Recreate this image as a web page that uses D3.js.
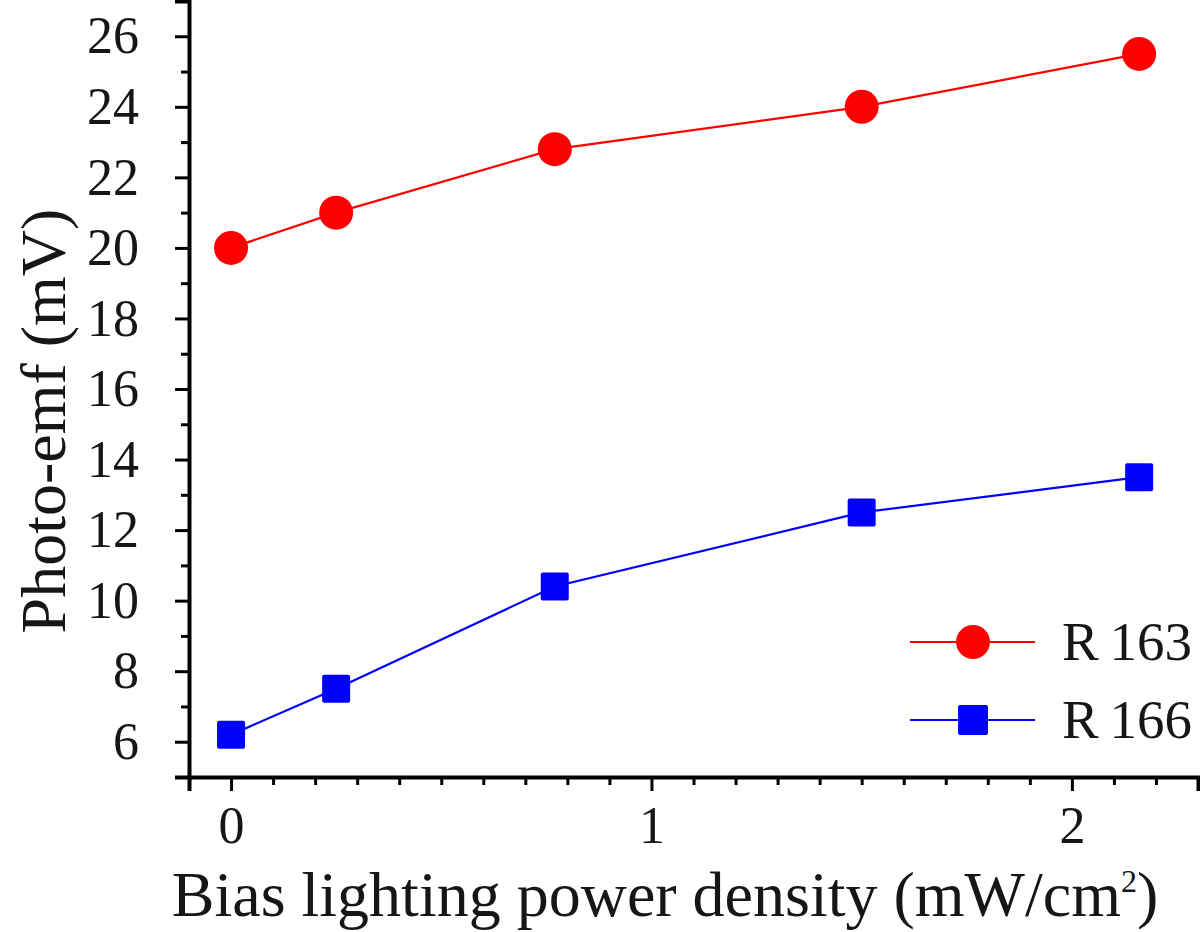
<!DOCTYPE html>
<html>
<head>
<meta charset="utf-8">
<script src="https://cdn.jsdelivr.net/npm/d3@7"></script>
<style>
  body { margin: 0; background: #fff; }
  text { font-family: "Liberation Serif", "Times New Roman", serif; fill: #161616; }
</style>
</head>
<body>
<div id="chart"></div>
<script>
// data
const biasPower = [0, 0.25, 0.77, 1.5, 2.16];
const emfR163 = [20, 21, 22.8, 24, 25.5];
const emfR166 = [6.2, 7.5, 10.4, 12.5, 13.5];
const seriesNames = ["R 163", "R 166"];
const yMajorTicks = [6, 8, 10, 12, 14, 16, 18, 20, 22, 24, 26];
const xMajorTicks = [0, 1, 2];

const width = 1200, height = 932;

const svg = d3.select("#chart").append("svg")
  .attr("width", width)
  .attr("height", height);

//Scales
const x = d3.scaleLinear().domain([-0.1, 2.3]).range([189, 1198]);
const y = d3.scaleLinear().domain([5, 27]).range([777, 1]);

//Minor ticks
const xMinor = d3.range(-1, 24).map(d => d / 10).filter(d => !xMajorTicks.some(m => Math.abs(m - d) < 1e-9));
const yMinor = d3.range(5, 28).filter(d => !yMajorTicks.includes(d));

//X axis
const xAxis = svg.append("g").attr("transform", "translate(0," + y(5) + ")");
xAxis.call(d3.axisBottom(x).tickValues(xMajorTicks).tickSize(14).tickPadding(15).tickFormat(d3.format("d")));
xAxis.append("g").call(d3.axisBottom(x).tickValues(xMinor).tickSize(8).tickFormat(""))
  .select(".domain").remove();

//Y axis
const yAxis = svg.append("g").attr("transform", "translate(" + x(-0.1) + ",0)");
yAxis.call(d3.axisLeft(y).tickValues(yMajorTicks).tickSize(14).tickPadding(36));
yAxis.append("g").call(d3.axisLeft(y).tickValues(yMinor).tickSize(8).tickFormat(""))
  .select(".domain").remove();

svg.selectAll(".domain").attr("stroke", "#000").attr("stroke-width", 4);
svg.selectAll(".tick line").attr("stroke", "#000").attr("stroke-width", 3);
svg.selectAll(".tick text").style("font-size", "52px").attr("fill", "#161616");

//Axis titles
svg.append("text")
  .attr("x", 665).attr("y", 916)
  .attr("text-anchor", "middle")
  .style("font-size", "64px")
  .html('Bias lighting power density (mW/cm<tspan dy="-24" style="font-size:32px">2</tspan><tspan dy="24">)</tspan>');

svg.append("text")
  .attr("transform", "translate(65,421) rotate(-90)")
  .attr("text-anchor", "middle")
  .style("font-size", "64px")
  .text("Photo-emf (mV)");

//Lines and markers
const line = d3.line().x(d => x(d[0])).y(d => y(d[1]));
const red = "#ff0000", blue = "#0000ff";

const dataR163 = biasPower.map((p, i) => [p, emfR163[i]]);
const dataR166 = biasPower.map((p, i) => [p, emfR166[i]]);

svg.append("path").datum(dataR163).attr("d", line)
  .attr("fill", "none").attr("stroke", red).attr("stroke-width", 2.2);
svg.append("path").datum(dataR166).attr("d", line)
  .attr("fill", "none").attr("stroke", blue).attr("stroke-width", 2.2);

svg.selectAll(".c163").data(dataR163).enter().append("circle")
  .attr("cx", d => x(d[0])).attr("cy", d => y(d[1]))
  .attr("r", 17).attr("fill", red);

const sq = 28;
svg.selectAll(".s166").data(dataR166).enter().append("rect")
  .attr("x", d => x(d[0]) - sq / 2).attr("y", d => y(d[1]) - sq / 2)
  .attr("width", sq).attr("height", sq).attr("rx", 2)
  .attr("fill", blue);

//Legend
const legend = svg.append("g");
[[red, 642], [blue, 720]].forEach(function (item, i) {
  legend.append("line")
    .attr("x1", 910).attr("x2", 1035).attr("y1", item[1]).attr("y2", item[1])
    .attr("stroke", item[0]).attr("stroke-width", 2.2);
  if (i == 0) {
    legend.append("circle").attr("cx", 973).attr("cy", item[1]).attr("r", 17).attr("fill", item[0]);
  } else {
    legend.append("rect").attr("x", 973 - 15).attr("y", item[1] - 15)
      .attr("width", 30).attr("height", 30).attr("rx", 2).attr("fill", item[0]);
  }
  legend.append("text")
    .attr("x", 1062).attr("y", item[1] + 18)
    .style("font-size", "55px")
    .style("word-spacing", "-3px")
    .text(seriesNames[i]);
});
</script>
</body>
</html>
